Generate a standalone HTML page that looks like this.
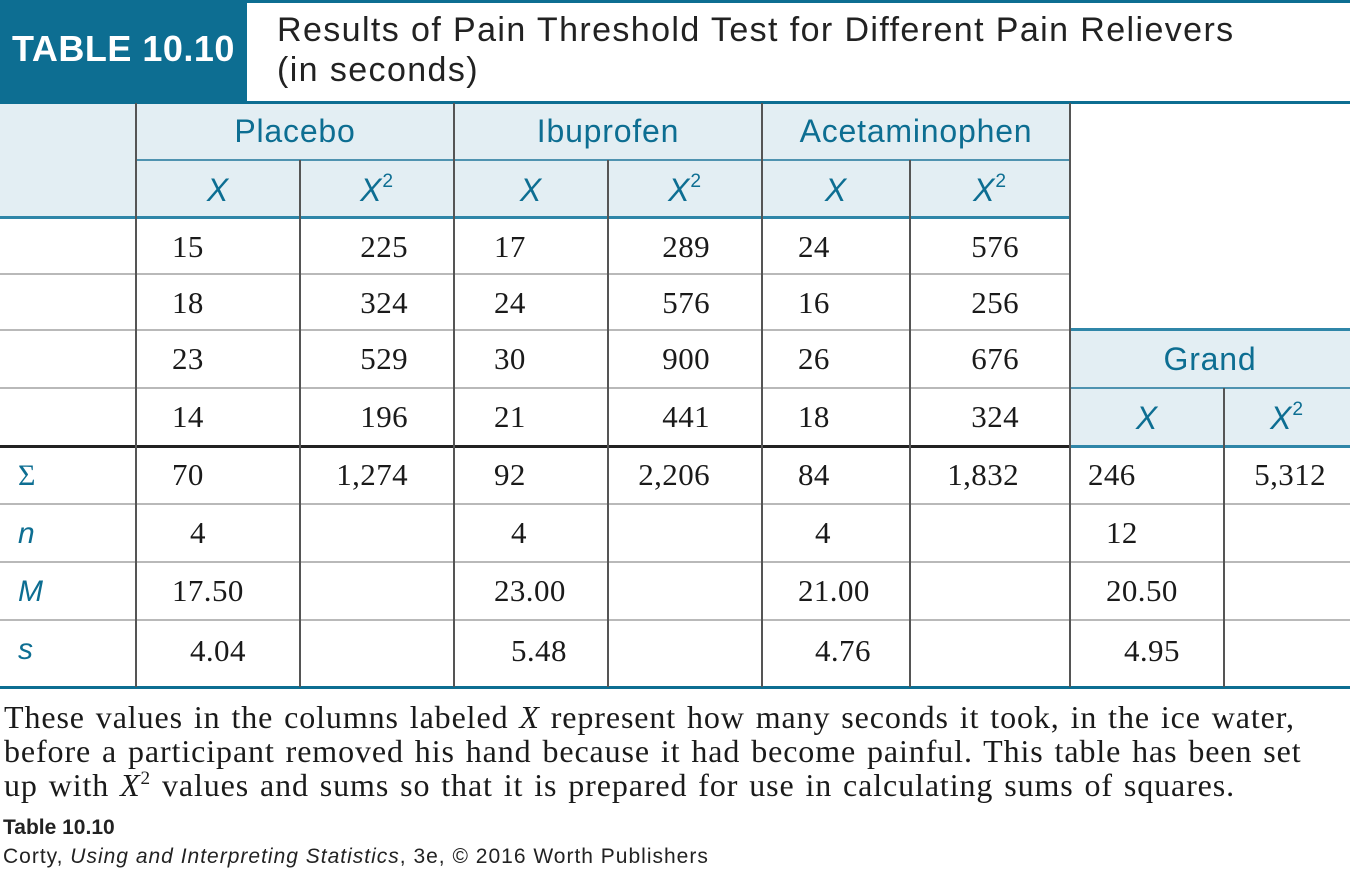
<!DOCTYPE html>
<html><head><meta charset="utf-8">
<style>
body{margin:0;width:1350px;height:877px;background:#fff;position:relative;overflow:hidden;font-family:"Liberation Serif",serif;}
.a{position:absolute;}
.hl{position:absolute;height:2px;background:#b9b9b9;}
.vl{position:absolute;width:2px;background:#555;}
.num{position:absolute;font-size:31px;letter-spacing:0.4px;color:#1a1a1a;line-height:30px;}
.hd{position:absolute;font-family:"Liberation Sans",sans-serif;color:#0d6e92;font-size:32px;letter-spacing:0.8px;text-align:center;line-height:31px;}
.lab{position:absolute;font-family:"Liberation Sans",sans-serif;color:#0d6e92;font-size:30px;font-style:italic;line-height:30px;left:18px;}
sup{font-size:60%;font-style:normal;line-height:0;vertical-align:baseline;position:relative;top:-0.75em;}
</style></head><body>
<div class="a" style="left:0;top:0;width:1350px;height:3px;background:#0d6e92"></div>
<div class="a" style="left:0;top:0;width:247px;height:102px;background:#0d6e92;color:#fff;font-family:'Liberation Sans',sans-serif;font-weight:bold;font-size:36px;letter-spacing:0.5px;line-height:98px;text-align:center">TABLE 10.10</div>
<div class="a" style="left:277px;top:10px;font-family:'Liberation Sans',sans-serif;font-size:34px;letter-spacing:1.4px;line-height:40px;color:#222">Results of Pain Threshold Test for Different Pain Relievers<br>(in seconds)</div>
<div class="a" style="left:0;top:102px;width:1070px;height:116px;background:#e3eef3"></div>
<div class="a" style="left:1070px;top:330px;width:280px;height:116px;background:#e3eef3"></div>
<div class="a" style="left:0;top:101px;width:1350px;height:3px;background:#0d6e92"></div>
<div class="a" style="left:136px;top:159px;width:934px;height:2px;background:#4f93b0"></div>
<div class="a" style="left:0;top:216px;width:1070px;height:3px;background:#2f86a8"></div>
<div class="hl" style="left:0;top:273px;width:1070px"></div>
<div class="hl" style="left:0;top:329px;width:1070px"></div>
<div class="a" style="left:1070px;top:328px;width:280px;height:3px;background:#2f86a8"></div>
<div class="hl" style="left:0;top:387px;width:1070px"></div>
<div class="a" style="left:1070px;top:387px;width:280px;height:2px;background:#4f93b0"></div>
<div class="a" style="left:0;top:445px;width:1070px;height:3px;background:#222"></div>
<div class="a" style="left:1070px;top:445px;width:280px;height:3px;background:#2f86a8"></div>
<div class="hl" style="left:0;top:503px;width:1350px"></div>
<div class="hl" style="left:0;top:561px;width:1350px"></div>
<div class="hl" style="left:0;top:619px;width:1350px"></div>
<div class="a" style="left:0;top:686px;width:1350px;height:3px;background:#0d6e92"></div>
<div class="vl" style="left:135px;top:103px;height:584px"></div>
<div class="vl" style="left:299px;top:160px;height:527px"></div>
<div class="vl" style="left:453px;top:103px;height:584px"></div>
<div class="vl" style="left:607px;top:160px;height:527px"></div>
<div class="vl" style="left:761px;top:103px;height:584px"></div>
<div class="vl" style="left:909px;top:160px;height:527px"></div>
<div class="vl" style="left:1069px;top:103px;height:584px"></div>
<div class="vl" style="left:1223px;top:388px;height:299px"></div>

<div class="hd" style="left:136px;width:318px;top:116px">Placebo</div>
<div class="hd" style="left:454px;width:308px;top:116px">Ibuprofen</div>
<div class="hd" style="left:762px;width:308px;top:116px">Acetaminophen</div>
<div class="hd" style="left:1070px;width:280px;top:344px">Grand</div>
<div class="hd" style="left:136px;width:164px;top:175px;font-style:italic">X</div>
<div class="hd" style="left:300px;width:154px;top:175px;font-style:italic">X<sup>2</sup></div>
<div class="hd" style="left:454px;width:154px;top:175px;font-style:italic">X</div>
<div class="hd" style="left:608px;width:154px;top:175px;font-style:italic">X<sup>2</sup></div>
<div class="hd" style="left:762px;width:148px;top:175px;font-style:italic">X</div>
<div class="hd" style="left:910px;width:160px;top:175px;font-style:italic">X<sup>2</sup></div>
<div class="hd" style="left:1070px;width:154px;top:403px;font-style:italic">X</div>
<div class="hd" style="left:1224px;width:126px;top:403px;font-style:italic">X<sup>2</sup></div>

<div class="lab" style="top:461px;font-style:normal;font-family:'Liberation Serif',serif">Σ</div>
<div class="lab" style="top:519px">n</div>
<div class="lab" style="top:577px">M</div>
<div class="lab" style="top:635px">s</div>

<div id="cells"></div>
<script>
const rowTops=[232,288,344,402,460,518,576,636];
// [row, left, rightAlign(bool), text]
const cells=[
[0,172,0,"15"],[0,408,1,"225"],[0,494,0,"17"],[0,710,1,"289"],[0,798,0,"24"],[0,1019,1,"576"],
[1,172,0,"18"],[1,408,1,"324"],[1,494,0,"24"],[1,710,1,"576"],[1,798,0,"16"],[1,1019,1,"256"],
[2,172,0,"23"],[2,408,1,"529"],[2,494,0,"30"],[2,710,1,"900"],[2,798,0,"26"],[2,1019,1,"676"],
[3,172,0,"14"],[3,408,1,"196"],[3,494,0,"21"],[3,710,1,"441"],[3,798,0,"18"],[3,1019,1,"324"],
[4,172,0,"70"],[4,408,1,"1,274"],[4,494,0,"92"],[4,710,1,"2,206"],[4,798,0,"84"],[4,1019,1,"1,832"],[4,1088,0,"246"],[4,1326,1,"5,312"],
[5,190,0,"4"],[5,511,0,"4"],[5,815,0,"4"],[5,1106,0,"12"],
[6,172,0,"17.50"],[6,494,0,"23.00"],[6,798,0,"21.00"],[6,1106,0,"20.50"],
[7,190,0,"4.04"],[7,511,0,"5.48"],[7,815,0,"4.76"],[7,1124,0,"4.95"]];
const host=document.getElementById('cells');
cells.forEach(c=>{
  const d=document.createElement('div');
  d.className='num';
  
  
  d.style.top=rowTops[c[0]]+'px';
  if(c[2]){d.style.right=(1350-c[1])+'px';}else{d.style.left=c[1]+'px';}
  d.textContent=c[3];
  host.appendChild(d);
});
</script>

<div class="a" style="left:4px;top:700px;font-size:32px;letter-spacing:0.9px;word-spacing:2px;line-height:34px;color:#1a1a1a;white-space:nowrap">These values in the columns labeled <i>X</i> represent how many seconds it took, in the ice water,<br>before a participant removed his hand because it had become painful. This table has been set<br>up with <i>X</i><sup style="top:-0.6em">2</sup> values and sums so that it is prepared for use in calculating sums of squares.</div>
<div class="a" style="left:3px;top:816px;font-family:'Liberation Sans',sans-serif;font-weight:bold;font-size:21px;color:#222">Table 10.10</div>
<div class="a" style="left:3px;top:845px;font-family:'Liberation Sans',sans-serif;font-size:21px;letter-spacing:1px;color:#222">Corty, <i>Using and Interpreting Statistics</i>, 3e, © 2016 Worth Publishers</div>
</body></html>
